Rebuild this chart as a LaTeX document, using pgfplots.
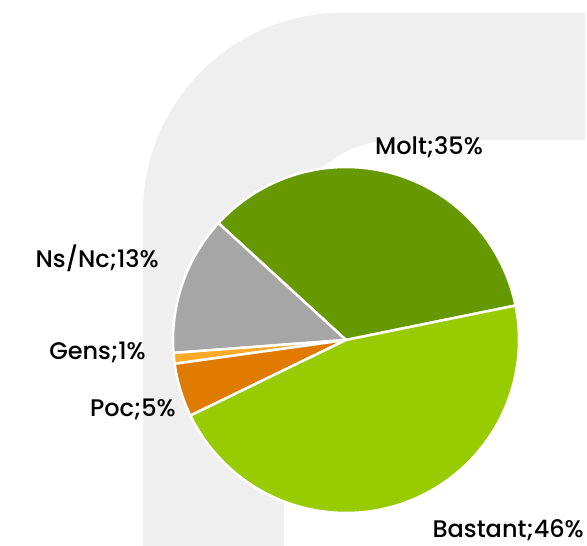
\documentclass[border=0pt]{standalone}
\usepackage{pgfplots}
\usepackage{pgfplotstable}
\pgfplotsset{compat=1.18}
\usepackage{fontspec}
\setmainfont{Poppins}[UprightFont={* Medium}]
\definecolor{bgband}{HTML}{EFEFEF}
\definecolor{cMolt}{HTML}{669900}
\definecolor{cBastant}{HTML}{99CC00}
\definecolor{cPoc}{HTML}{E07B00}
\definecolor{cGens}{HTML}{FFA928}
\definecolor{cNsNc}{HTML}{A6A6A6}
% pie data (percent), counter-clockwise from the start angle
\pgfplotstableread{
label    value
Molt     35
NsNc     13
Gens     1
Poc      5
Bastant  46
}\piedata
\pgfplotstablegetelem{0}{value}\of\piedata \let\vMolt\pgfplotsretval
\pgfplotstablegetelem{1}{value}\of\piedata \let\vNsNc\pgfplotsretval
\pgfplotstablegetelem{2}{value}\of\piedata \let\vGens\pgfplotsretval
\pgfplotstablegetelem{3}{value}\of\piedata \let\vPoc\pgfplotsretval
\pgfplotstablegetelem{4}{value}\of\piedata \let\vBastant\pgfplotsretval
\pgfmathsetmacro{\aA}{11.5}
\pgfmathsetmacro{\aB}{\aA+3.6*\vMolt}
\pgfmathsetmacro{\aC}{\aB+3.6*\vNsNc}
\pgfmathsetmacro{\aD}{\aC+3.6*\vGens}
\pgfmathsetmacro{\aE}{\aD+3.6*\vPoc}
\pgfmathsetmacro{\aF}{\aE+3.6*\vBastant}
\def\cx{346}
\def\cy{206}
\def\rr{173}
\tikzset{lbl/.style={inner sep=0pt, font=\fontsize{24}{24}\selectfont}}
\begin{document}
\begin{tikzpicture}
\begin{axis}[
  width=587pt, height=546pt, scale only axis,
  xmin=0, xmax=587, ymin=0, ymax=546,
  axis lines=none, ticks=none, clip=false,
]
% decorative background band
\fill[bgband] (axis cs:143,0) -- (axis cs:143,333.3)
   arc[start angle=180, end angle=90, radius=200pt]
   -- (axis cs:585,533.3) -- (axis cs:585,406) -- (axis cs:396,406)
   arc[start angle=90, end angle=180, radius=112pt]
   -- (axis cs:284,0) -- cycle;
% slices
\addplot[fill=cMolt, draw=white, line width=2.5pt, domain=\aA:\aB, samples=80, variable=\t]
  ({\cx+\rr*cos(\t)}, {\cy+\rr*sin(\t)}) -- (axis cs:\cx,\cy) -- cycle;
\addplot[fill=cNsNc, draw=white, line width=2.5pt, domain=\aB:\aC, samples=40, variable=\t]
  ({\cx+\rr*cos(\t)}, {\cy+\rr*sin(\t)}) -- (axis cs:\cx,\cy) -- cycle;
\addplot[fill=cGens, draw=white, line width=2.5pt, domain=\aC:\aD, samples=10, variable=\t]
  ({\cx+\rr*cos(\t)}, {\cy+\rr*sin(\t)}) -- (axis cs:\cx,\cy) -- cycle;
\addplot[fill=cPoc, draw=white, line width=2.5pt, domain=\aD:\aE, samples=20, variable=\t]
  ({\cx+\rr*cos(\t)}, {\cy+\rr*sin(\t)}) -- (axis cs:\cx,\cy) -- cycle;
\addplot[fill=cBastant, draw=white, line width=2.5pt, domain=\aE:\aF, samples=100, variable=\t]
  ({\cx+\rr*cos(\t)}, {\cy+\rr*sin(\t)}) -- (axis cs:\cx,\cy) -- cycle;
% labels
\node[lbl, anchor=base west] at (axis cs:375,391) {Molt;35\%};
\node[lbl, anchor=base east] at (axis cs:159,278) {Ns/Nc;13\%};
\node[lbl, anchor=base east] at (axis cs:146,186) {Gens;1\%};
\node[lbl, anchor=base east] at (axis cs:176,129) {Poc;5\%};
\node[lbl, anchor=base east] at (axis cs:584,8) {Bastant;46\%};
\end{axis}
\pgfresetboundingbox
\path (current axis.south west) rectangle (current axis.north east);
\end{tikzpicture}
\end{document}
